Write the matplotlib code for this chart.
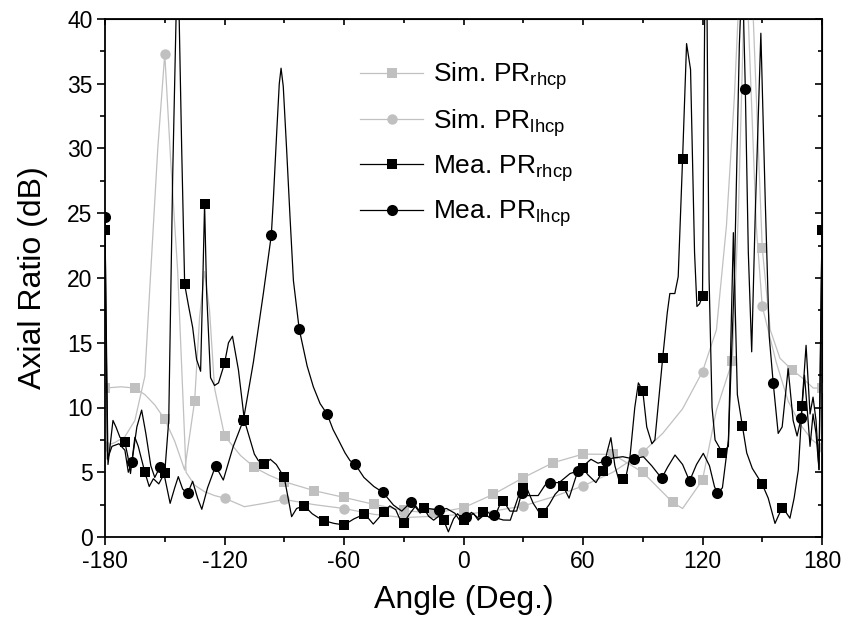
import numpy as np
import matplotlib
matplotlib.use('Agg')
import matplotlib.pyplot as plt
from matplotlib.ticker import MultipleLocator

plt.rcParams['font.family'] = ['Liberation Sans', 'DejaVu Sans']
plt.rcParams['mathtext.fontset'] = 'custom'
plt.rcParams['mathtext.rm'] = 'Liberation Sans'
plt.rcParams['mathtext.it'] = 'Liberation Sans:italic'
plt.rcParams['axes.unicode_minus'] = False

# Simulated axial ratio (dB), light grey curves
sim_rhcp_ang = [-180, -172, -165, -160, -155, -150, -145, -140, -135, -132.5, -130, -127.5, -125,
                -120, -112, -105, -98, -90, -82, -75, -67, -60, -45, -30, -15, 0, 15, 30, 45, 60,
                75, 90, 105, 110, 120, 127, 135, 138, 141, 143.5, 146, 150, 154, 158.9, 165, 170,
                175.6, 180]
sim_rhcp_val = [11.5, 11.6, 11.5, 11.0, 10.2, 9.09, 7.4, 5.17, 10.5, 17.0, 20.5, 17.5, 11.5,
                7.82, 6.3, 5.38, 4.8, 4.27, 3.9, 3.58, 3.3, 3.06, 2.52, 2.05, 1.83, 2.26, 3.3, 4.58,
                5.74, 6.4, 6.38, 5.0, 2.68, 2.2, 4.4, 9.8, 13.6, 25.0, 42.0, 48.0, 38.0, 22.3, 16.0,
                13.8, 12.9, 12.3, 11.5, 11.5]

sim_lhcp_ang = [-180, -175, -170, -165, -160, -157.4, -153.5, -150, -147, -143.5, -139.3, -135,
                -130, -125, -120, -110, -100, -90, -75, -60, -45, -30, -15, 0, 15, 30, 45, 60, 75,
                90, 100, 110, 120, 127, 132, 136, 139, 141.5, 144, 147, 150, 157, 163, 169, 175, 180]
sim_lhcp_val = [7.0, 7.3, 7.75, 9.0, 12.4, 19.5, 30.0, 37.3, 29.0, 20.5, 5.0, 4.0,
                3.5, 3.2, 3.0, 2.34, 2.6, 2.9, 2.5, 2.2, 1.75, 1.5, 1.6, 1.75, 2.0, 2.4, 3.1, 3.94,
                5.0, 6.54, 8.0, 9.9, 12.77, 16.0, 24.0, 34.0, 44.0, 46.0, 36.0, 24.0, 17.8, 13.5,
                10.5, 8.7, 7.5, 6.93]

# Measured axial ratio (dB), black curves
mea_rhcp_ang = [-180, -178.5, -176, -174.5, -172.5, -170, -168.5, -167.2, -165, -163.3, -160,
                -157.8, -155.7, -153, -150, -148, -146, -143.5, -141.5, -140, -138, -136, -134,
                -132, -131, -130, -129, -127, -125, -123, -120, -118, -116, -113, -110, -105,
                -103, -100, -97, -94, -90, -86.3, -83.8, -80, -76, -73, -70, -65, -60, -55, -50,
                -47.5, -45.3, -43, -40, -37, -34, -32, -30, -27, -24, -22, -20, -17.5, -15,
                -12.5, -10, -7.6, -5, -3, 0, 2.5, 5, 7.4, 10, 13, 16, 18, 20, 23.3, 26.7, 28.5,
                30, 32, 35, 38, 40, 43, 46, 50, 53, 55.5, 57.6, 60, 62.5, 66.5, 70, 72, 74, 76,
                78, 80, 81.5, 83.6, 86, 87.8, 90, 92, 94.6, 96.1, 100, 102.3, 103.6, 106.1, 107.8,
                110, 112, 114, 116, 117.2, 118.5, 120, 121.7, 123.3, 124.8, 126.3, 130, 133, 135.5,
                137.5, 140, 142.2, 145, 150, 153, 156.4, 158, 160, 161.5, 163.9, 166, 168.1, 170,
                171.2, 172.5, 174, 175.5, 177, 178.5, 180]
mea_rhcp_val = [23.7, 5.6, 9.0, 8.5, 7.7, 7.3, 6.2, 4.9, 7.7, 7.0, 5.0,
                3.9, 4.5, 4.1, 4.97, 9.0, 28.0, 46.0, 30.0, 19.5, 17.8, 16.2, 13.7,
                12.8, 19.0, 25.7, 19.0, 12.3, 11.7, 11.9, 13.4, 15.0, 15.5, 12.9, 9.0, 6.4,
                5.9, 5.6, 6.0, 5.6, 4.6, 1.57, 2.2, 2.42, 1.8, 1.5, 1.26, 1.05, 0.93, 1.4, 1.75,
                1.4, 1.0, 1.4, 1.95, 2.4, 2.1, 1.4, 1.1, 1.8, 2.4, 2.0, 2.26, 1.6, 1.3,
                1.6, 1.31, 0.4, 1.4, 1.8, 1.3, 1.5, 1.83, 1.3, 1.9, 1.5, 1.7, 2.4, 2.78, 2.0, 2.0, 3.0,
                3.76, 3.7, 2.6, 1.9, 1.88, 2.5, 3.3, 3.94, 3.0, 4.2, 5.2, 5.3, 4.8, 4.2, 5.1, 6.5, 7.67, 5.5,
                4.4, 4.45, 4.6, 6.2, 10.0, 11.9, 11.3, 8.5, 7.2, 7.5, 13.8, 17.3, 18.8, 18.8, 20.1,
                29.2, 38.1, 36.1, 22.0, 17.8, 18.0, 18.6, 52.0, 20.0, 10.0, 7.5, 6.5, 7.0, 23.5,
                11.0, 8.6, 6.5, 5.3, 4.07, 3.0, 1.05, 1.6, 2.26, 2.0, 1.45, 3.0, 5.17, 10.1,
                12.5, 10.0, 7.0, 9.5, 8.0, 5.2, 23.7]

mea_lhcp_ang = [-180, -178.8, -176.5, -173, -170, -168.3, -166.5, -164, -161.6, -159.5, -157, -155,
                -152.5, -150, -147.3, -145, -143.2, -141, -138.5, -136, -133.5, -131.4, -128.5,
                -124.5, -120.6, -115.6, -110.5, -105.5, -100.5, -96.5, -95.5, -93.8, -92.5, -91.6,
                -90.5, -88.8, -87.1, -85.4, -82.5, -78.5, -75.4, -72, -68.5, -65.5, -62.8, -59.5,
                -57, -54.5, -50, -45, -40.5, -37.5, -35.2, -31, -29, -26.5, -24, -21.8, -17.7,
                -12.5, -8.5, -4.3, -2, 1.5, 4, 8, 12, 15.5, 18, 20, 23.5, 27.5, 29.5, 32, 37.5,
                40.9, 43.5, 48, 53.5, 57.5, 61, 64, 67.5, 71.5, 75, 80, 85.5, 90.3, 94.5, 99.5,
                102.5, 106.2, 110, 113.5, 117, 120.4, 123.5, 126, 127.5, 130, 133, 136, 138.5, 140,
                141.5, 143, 144.7, 146.5, 149.3, 151.5, 153.5, 155.5, 158, 160, 163, 165.5, 167.5,
                169.5, 172, 174, 175.5, 177, 178.5, 180]
mea_lhcp_val = [24.7, 6.0, 7.0, 7.2, 6.7, 5.0, 5.77, 8.5, 9.8, 8.0, 5.5, 4.6,
                5.38, 4.6, 2.6, 3.8, 4.66, 3.7, 3.37, 4.3, 3.0, 2.14, 3.8,
                5.48, 4.4, 7.0, 9.03, 13.5, 18.8, 23.3, 26.0, 31.2, 35.0, 36.2,
                34.8, 29.9, 24.7, 19.8, 16.06, 13.2, 11.6, 10.3, 9.5, 8.3, 7.5, 6.5,
                5.9, 5.64, 4.6, 3.9, 3.45, 2.9, 2.47, 2.0, 2.3, 2.68, 2.3, 1.85, 2.2,
                2.08, 2.2, 1.83, 1.3, 1.57, 1.9, 1.4, 1.9, 1.7, 1.4, 1.31, 1.3, 3.1, 3.37, 3.2, 3.2,
                4.0, 4.2, 4.2, 4.9, 5.1, 5.6, 6.0, 5.7, 5.87, 6.1, 6.2, 6.02, 6.2, 5.5, 4.53,
                5.4, 6.33, 5.6, 4.32, 5.6, 6.46, 5.5, 3.9, 3.37, 3.8, 7.5, 20.0, 38.0, 44.0,
                34.6, 22.0, 14.3, 25.0, 38.9, 26.0, 15.5, 11.9, 8.0, 8.5, 13.0, 9.0, 7.8,
                9.17, 14.8, 9.5, 10.8, 9.0, 5.2, 24.0]

# angles carrying a symbol on each curve
sim_rhcp_marks = np.arange(-180, 181, 15)
sim_lhcp_marks = np.arange(-180, 181, 30)
mea_rhcp_marks = np.arange(-180, 181, 10)
mea_lhcp_marks = [-180, -166.5, -152.5, -138.5, -124.5, -110.5, -96.5, -82.5, -68.5, -54.5,
                  -40.5, -26.5, -12.5, 1.5, 15.5, 29.5, 43.5, 57.5, 71.5, 85.5, 99.5, 113.5,
                  127.5, 141.5, 155.5, 169.5]

grey = '#c0c0c0'
series = [
    (sim_rhcp_ang, sim_rhcp_val, sim_rhcp_marks, grey, 's', 6.5, r'Sim. PR$_{\mathrm{rhcp}}$'),
    (sim_lhcp_ang, sim_lhcp_val, sim_lhcp_marks, grey, 'o', 7.5, r'Sim. PR$_{\mathrm{lhcp}}$'),
    (mea_rhcp_ang, mea_rhcp_val, mea_rhcp_marks, 'black', 's', 7, r'Mea. PR$_{\mathrm{rhcp}}$'),
    (mea_lhcp_ang, mea_lhcp_val, mea_lhcp_marks, 'black', 'o', 8, r'Mea. PR$_{\mathrm{lhcp}}$'),
]

fig = plt.figure(figsize=(8.48, 6.37), dpi=100)
ax = fig.add_axes([105 / 848, 1 - 537 / 637, 717 / 848, 518 / 637])

for ang, val, marks, color, marker, ms, label in series:
    ang = np.asarray(ang, dtype=float)
    mask = np.isin(ang, np.asarray(marks, dtype=float))
    ax.plot(ang, val, color=color, lw=0.9, marker=marker, markersize=ms,
            markevery=list(np.where(mask)[0]), markeredgewidth=0, label=label)

ax.set_xlim(-180, 180)
ax.set_ylim(0, 40)
ax.xaxis.set_major_locator(MultipleLocator(60))
ax.xaxis.set_minor_locator(MultipleLocator(30))
ax.yaxis.set_major_locator(MultipleLocator(5))
ax.yaxis.set_minor_locator(MultipleLocator(2.5))
ax.tick_params(which='both', direction='out', labelsize=16.5, width=1.2)
ax.tick_params(which='major', length=6, pad=3)
ax.tick_params(which='minor', length=3.5)
for s in ax.spines.values():
    s.set_linewidth(1.3)

top = ax.secondary_xaxis('top')
top.xaxis.set_major_locator(MultipleLocator(60))
top.xaxis.set_minor_locator(MultipleLocator(30))
top.tick_params(which='both', direction='in', labeltop=False, width=1.2)
top.tick_params(which='major', length=4)
top.tick_params(which='minor', length=3)
right = ax.secondary_yaxis('right')
right.yaxis.set_major_locator(MultipleLocator(5))
right.yaxis.set_minor_locator(MultipleLocator(2.5))
right.tick_params(which='both', direction='in', labelright=False, width=1.2)
right.tick_params(which='major', length=5)
right.tick_params(which='minor', length=3)

ax.set_xlabel('Angle (Deg.)', fontsize=23, labelpad=9)
ax.set_ylabel('Axial Ratio (dB)', fontsize=23, labelpad=14)

ax.legend(loc='upper left', bbox_to_anchor=(0.341, 0.94), frameon=False, fontsize=19,
          handlelength=2.4, handletextpad=0.38, labelspacing=0.55, borderaxespad=0)

fig.savefig('out.png', dpi=100)
